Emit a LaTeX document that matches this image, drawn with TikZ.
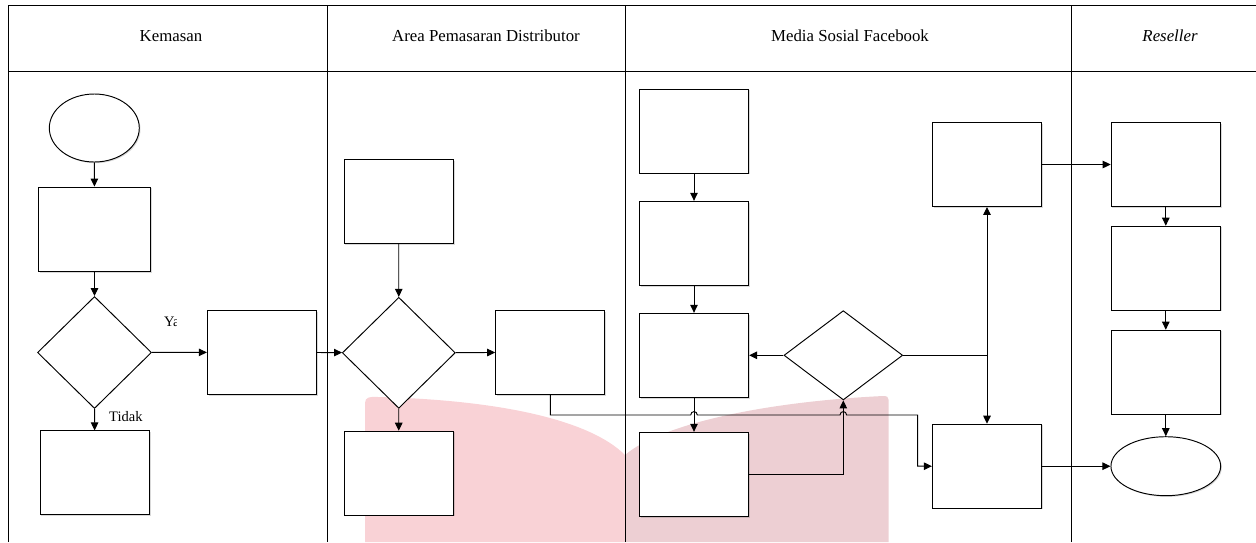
\documentclass[tikz,border=0pt]{standalone}
\usepackage{fontspec}
\setmainfont{Liberation Serif}
\usetikzlibrary{arrows.meta,shapes.geometric,shadows}
\definecolor{pinkL}{RGB}{249,210,214}
\definecolor{pinkR}{RGB}{237,207,211}
\tikzset{
  lane/.style={line width=1pt, draw=black},
  shade/.style={drop shadow={shadow xshift=1.2pt, shadow yshift=-1.2pt, opacity=0.25, fill=black!60}},
  box/.style={rectangle, draw, fill=white, line width=0.95pt, inner sep=0pt,
              minimum width=109.3pt, minimum height=84pt, shade},
  dec/.style={diamond, draw, fill=white, line width=0.95pt, inner sep=0pt},
  term/.style={ellipse, draw, fill=white, line width=0.95pt, inner sep=0pt, shade},
  conn/.style={line width=0.95pt, -{Triangle[length=8pt,width=7.5pt]}},
  hdr/.style={anchor=base, font=\fontsize{16.8}{18}\selectfont, inner sep=0pt},
  lbl/.style={anchor=base west, font=\fontsize{14.5}{16}\selectfont, inner sep=0pt},
}
\begin{document}
\begin{tikzpicture}[x=1pt,y=-1pt]
\useasboundingbox (0,0) rectangle (1256,542);
% watermark
\fill[pinkL] (365,542) -- (365,403) .. controls (365,397) and (370,396.5) .. (378,397)
  .. controls (500,400) and (590,420) .. (625,455) -- (625,542) -- cycle;
\fill[pinkR] (625,542) -- (625,455) .. controls (660,425) and (760,402) .. (883,396)
  .. controls (887,396) and (888.7,397) .. (888.7,400) -- (888.7,542) -- cycle;
% swimlanes
\draw[lane] (8,542) -- (8,5) -- (1256,5);
\draw[lane] (8,71.7) -- (1256,71.7);
\draw[lane] (327,5) -- (327,542);
\draw[lane] (625,5) -- (625,542);
\draw[lane] (1071.5,5) -- (1071.5,542);
\node[hdr] (h1) at (171,41.5) {Kemasan};
\node[hdr] (h2) at (486,41.5) {Area Pemasaran Distributor};
\node[hdr] (h3) at (850,41.5) {Media Sosial Facebook};
\node[hdr] (h4) at (1170,41.5) {\itshape Reseller};
% Kemasan
\node[term, minimum width=90pt, minimum height=68pt] (k0) at (94.3,128) {};
\node[box, minimum width=112.4pt, minimum height=84.3pt] (k1) at (94.5,229.2) {};
\node[dec, minimum width=114pt, minimum height=112pt] (k2) at (94.5,352.5) {};
\node[box] (k3) at (94.7,472.9) {};
\node[box] (k4) at (262,352.3) {};
% Area Pemasaran
\node[box] (a1) at (398.7,201.3) {};
\node[dec, minimum width=113pt, minimum height=111pt] (a2) at (398.8,352.8) {};
\node[box] (a3) at (550.3,352.3) {};
\node[box] (a4) at (398.7,473.2) {};
% Media Sosial
\node[box] (m1) at (694,131.2) {};
\node[box] (m2) at (694,243.3) {};
\node[box] (m3) at (694,355.3) {};
\node[box] (m4) at (694,474.3) {};
\node[dec, minimum width=118.7pt, minimum height=89.3pt] (m5) at (843.3,355.3) {};
\node[box] (m6) at (987,164.5) {};
\node[box] (m7) at (987,466.2) {};
% Reseller
\node[box] (r1) at (1165.8,164.5) {};
\node[box] (r2) at (1165.8,268.2) {};
\node[box] (r3) at (1165.8,372.2) {};
\node[term, minimum width=109.7pt, minimum height=59pt] (r4) at (1165.8,466.2) {};
% connectors
\draw[conn] (k0) -- (k1);
\draw[conn] (k1) -- (k2);
\draw[conn] (k2) -- (k3);
\draw[conn] (k2) -- (k4);
\draw[conn] (k4) -- (a2);
\draw[conn] (a1) -- (a2);
\draw[conn] (a2) -- (a3);
\draw[conn] (a2) -- (a4);
\draw[conn] (m1) -- (m2);
\draw[conn] (m2) -- (m3);
\draw[conn] (m3) -- (m4);
\draw[conn] (m4.east) -| (m5.south);
\draw[conn] (m5.west) -- (m3.east);
\draw[conn] (m5.east) -| (m6.south);
\draw[conn] (m5.east) -| (m7.north);
\draw[conn] (m6.east) -- (r1.west);
\draw[conn] (r1) -- (r2);
\draw[conn] (r2) -- (r3);
\draw[conn] (r3) -- (r4);
\draw[conn] (m7.east) -- (r4.west);
\coordinate (j0) at (550.3,415);
\coordinate (j1) at (917.7,415);
\coordinate (j2) at (917.7,466.2);
\draw[conn] (a3.south) -- (j0) -- (690.7,415) .. controls (690.7,410.5) and (697.3,410.5) .. (697.3,415)
  -- (840,415) .. controls (840,410.5) and (846.6,410.5) .. (846.6,415) -- (j1) -- (j2) -- (m7.west);
% labels
\node[lbl] (ltidak) at (109,421.7) {Tidak};
\begin{scope}
\clip (160,300) rectangle (176,335);
\node[lbl] (lya) at (164,326.7) {Ya};
\end{scope}
\end{tikzpicture}
\end{document}
